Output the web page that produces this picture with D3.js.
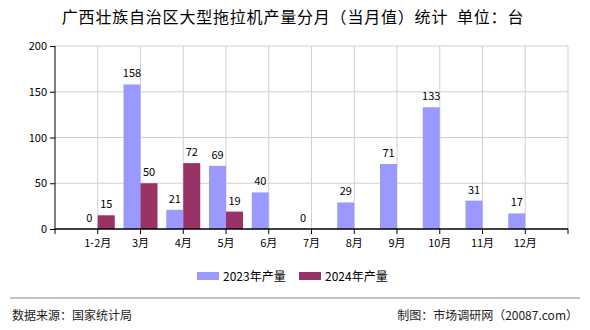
<!DOCTYPE html>
<html><head><meta charset="utf-8">
<script src="https://cdn.jsdelivr.net/npm/d3@7"></script>
<style>body{margin:0;background:#fff}svg{display:block}text{font-family:"Noto Sans CJK SC","DejaVu Sans",sans-serif}</style>
</head><body>
<svg id="c" width="590" height="330"></svg>
<script>
const categories = ["1-2月","3月","4月","5月","6月","7月","8月","9月","10月","11月","12月"];
const values2023 = [0,158,21,69,40,0,29,71,133,31,17];
const values2024 = [15,50,72,19,null,null,null,null,null,null,null];
const seriesNames = ["2023年产量","2024年产量"];
const yTicks = [0,50,100,150,200];
const colors = ["#9999FF","#993366"];

const svg = d3.select("#c");
const L=55,R=568,T=46,B=229;
const x = d3.scaleLinear().domain([0,categories.length+1]).range([L,R]);
const y = d3.scaleLinear().domain([0,200]).range([B,T]);
const bw = 17;

svg.append("text").attr("x",293).attr("y",23).attr("text-anchor","middle").style("white-space","pre")
  .attr("font-size",16).attr("letter-spacing",0.8).attr("fill","#000").text("广西壮族自治区大型拖拉机产量分月（当月值）统计  单位：台");

// grid
const g = svg.append("g");
yTicks.forEach(t=>{ if(t>0) g.append("line").attr("x1",L).attr("x2",R).attr("y1",y(t)).attr("y2",y(t)).attr("stroke","#d0d0d0"); });
categories.forEach((c,i)=>{ g.append("line").attr("x1",x(i+1)).attr("x2",x(i+1)).attr("y1",T).attr("y2",B).attr("stroke","#d0d0d0"); });
g.append("line").attr("x1",R).attr("x2",R).attr("y1",T).attr("y2",B).attr("stroke","#d0d0d0");

// bars
const series=[values2023,values2024];
series.forEach((vals,s)=>{
  categories.forEach((c,i)=>{
    const v=vals[i]; if(v==null) return;
    const x0 = s===0 ? x(i+1)-bw : x(i+1);
    svg.append("rect").attr("x",x0).attr("y",y(v)).attr("width",bw).attr("height",B-y(v)).attr("fill",colors[s]);
    svg.append("text").attr("x",x0+bw/2).attr("y",y(v)-7).attr("text-anchor","middle")
      .attr("font-size",11).attr("fill","#000").text(v);
  });
});

// axes
const yAxis = d3.axisLeft(y).tickValues(yTicks).tickSize(5).tickPadding(3);
const ya = svg.append("g").attr("transform",`translate(${L},0)`).call(yAxis);
ya.select(".domain").attr("stroke","#000").attr("d",`M0,${T}V${B}`);
ya.selectAll("text").attr("font-size",11).attr("fill","#000");
ya.selectAll(".tick line").attr("stroke","#000");

const xa = svg.append("g").attr("transform",`translate(0,${B})`);
xa.append("line").attr("x1",L).attr("x2",R).attr("stroke","#000").attr("stroke-width",1.5);
[0,...categories.map((c,i)=>i+1),categories.length+1].forEach(i=>{
  xa.append("line").attr("x1",x(i)).attr("x2",x(i)).attr("y1",0).attr("y2",5).attr("stroke","#000");
});
categories.forEach((c,i)=>{
  xa.append("text").attr("x",x(i+1)).attr("y",18).attr("text-anchor","middle").attr("font-size",11).attr("fill","#000").text(c);
});

// legend
const lg=[[197,"#9999FF",seriesNames[0]],[299,"#993366",seriesNames[1]]];
lg.forEach(([lx,col,t])=>{
  svg.append("rect").attr("x",lx).attr("y",272).attr("width",22).attr("height",8).attr("fill",col);
  svg.append("text").attr("x",lx+26).attr("y",281).attr("font-size",12).attr("fill","#000").text(t);
});

// footer
svg.append("line").attr("x1",10).attr("x2",580).attr("y1",298).attr("y2",298).attr("stroke","#888");
svg.append("text").attr("x",12).attr("y",320).attr("font-size",12).attr("fill","#222").text("数据来源：国家统计局");
svg.append("text").attr("x",578).attr("y",320).attr("text-anchor","end").attr("font-size",12).attr("fill","#222").text("制图：市场调研网（20087.com）");
</script>
</body></html>
